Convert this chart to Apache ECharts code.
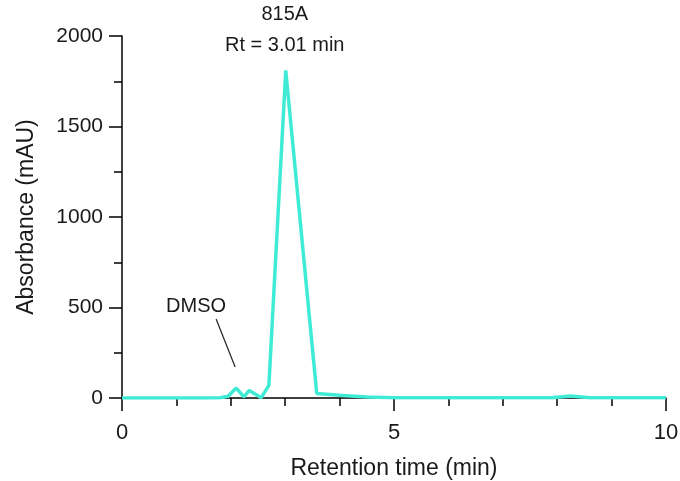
<!DOCTYPE html>
<html>
<head>
<meta charset="utf-8">
<script src="https://cdn.jsdelivr.net/npm/echarts@6/dist/echarts.min.js"></script>
<style>html,body{margin:0;padding:0;background:#fff}#c{width:680px;height:481px}</style>
</head>
<body>
<div id="c"></div>
<script>
const retentionTimes = [0, 0.5, 1.0, 1.5, 1.8, 1.95, 2.1, 2.24, 2.34, 2.56, 2.7, 3.01, 3.58, 4.0, 4.5, 5, 6, 7, 7.9, 8.25, 8.6, 9, 10];
const absorbance =     [0, 0, 0, 0, 1, 10, 55, 6, 42, 2, 70, 1810, 25, 15, 5, 2, 1, 1, 1, 11, 2, 1, 1];
const xTicks = [0, 5, 10];
const yTicks = [0, 500, 1000, 1500, 2000];
const pointerX = [1.73, 2.08];
const pointerY = [436, 171];
const peakLabel = ['815A', 'Rt = 3.01 min'];
const dmsoLabel = 'DMSO';

const FONT = '"Liberation Sans", Arial, sans-serif';
const chart = echarts.init(document.getElementById('c'));
const seriesData = retentionTimes.map((t, i) => [t, absorbance[i]]);
chart.setOption({
  animation: false,
  grid: {left: 122, right: 14, top: 36, bottom: 83, containLabel: false, outerBoundsMode: 'none'},
  xAxis: {
    type: 'value', min: xTicks[0], max: xTicks[xTicks.length - 1], interval: 5,
    name: 'Retention time (min)', nameLocation: 'middle', nameGap: 59,
    nameTextStyle: {fontFamily: FONT, fontSize: 23, color: '#1a1a1a'},
    axisLine: {onZero: false, lineStyle: {color: '#000', width: 1.5}},
    axisTick: {length: 13, lineStyle: {color: '#000', width: 1.5}},
    minorTick: {show: true, splitNumber: 5, length: 8, lineStyle: {color: '#000', width: 1.5}},
    axisLabel: {margin: 24, fontFamily: FONT, fontSize: 22, color: '#1a1a1a', formatter: v => String(v)},
    splitLine: {show: false}
  },
  yAxis: {
    type: 'value', min: yTicks[0], max: yTicks[yTicks.length - 1], interval: 500,
    name: 'Absorbance (mAU)', nameLocation: 'middle', nameGap: 84, nameRotate: 90,
    nameTextStyle: {fontFamily: FONT, fontSize: 23, color: '#1a1a1a'},
    axisLine: {show: true, lineStyle: {color: '#000', width: 1.5}},
    axisTick: {show: true, length: 13, lineStyle: {color: '#000', width: 1.5}},
    minorTick: {show: true, splitNumber: 2, length: 8, lineStyle: {color: '#000', width: 1.5}},
    axisLabel: {margin: 19, fontFamily: FONT, fontSize: 21, color: '#1a1a1a', formatter: v => String(v)},
    splitLine: {show: false}
  },
  series: [
    {
      type: 'line', data: seriesData, symbol: 'none', z: 5,
      lineStyle: {color: '#40EBD6', width: 3.5}
    },
    {
      type: 'line', data: pointerX.map((x, i) => [x, pointerY[i]]), symbol: 'none', z: 4,
      lineStyle: {color: '#222', width: 1.2}, silent: true
    }
  ]
});
const peakPx = chart.convertToPixel({gridIndex: 0}, [3.01, 1810]);
const dmsoPx = chart.convertToPixel({gridIndex: 0}, [pointerX[0], pointerY[0]]);
chart.setOption({
  graphic: [
    {type: 'text', x: peakPx[0] - 1, y: 14, style: {text: peakLabel[0], font: '20px ' + FONT, fill: '#1a1a1a', textAlign: 'center', textVerticalAlign: 'middle'}},
    {type: 'text', x: peakPx[0] - 1, y: 45, style: {text: peakLabel[1], font: '20px ' + FONT, fill: '#1a1a1a', textAlign: 'center', textVerticalAlign: 'middle'}},
    {type: 'text', x: dmsoPx[0] - 20, y: dmsoPx[1] - 13, style: {text: dmsoLabel, font: '20px ' + FONT, fill: '#1a1a1a', textAlign: 'center', textVerticalAlign: 'middle'}}
  ]
});
</script>
</body>
</html>
